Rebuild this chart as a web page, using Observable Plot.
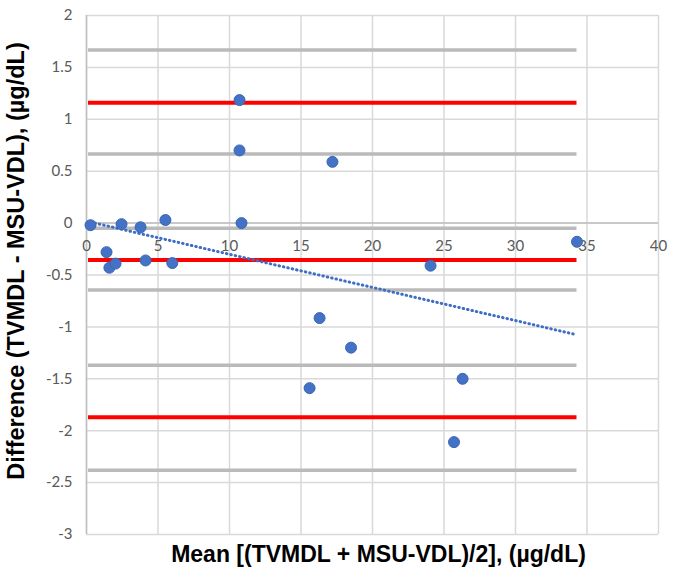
<!DOCTYPE html>
<html>
<head>
<meta charset="utf-8">
<script src="https://cdn.jsdelivr.net/npm/d3@7"></script>
<script src="https://cdn.jsdelivr.net/npm/@observablehq/plot@0.6"></script>
<style>
  html, body { margin: 0; padding: 0; background: white; }
</style>
</head>
<body>
<div id="chart"></div>
<script>
// ---- data ----
const xTicks = [0, 5, 10, 15, 20, 25, 30, 35, 40];
const yTicks = [-3, -2.5, -2, -1.5, -1, -0.5, 0, 0.5, 1, 1.5, 2];

const meanX = [0.28, 2.45, 3.78, 5.52, 10.84, 1.4, 1.6, 2.03, 4.13, 6.0,
               10.7, 10.7, 17.2, 34.3, 24.06, 16.3, 18.5, 15.6, 26.3, 25.7];
const diffY = [-0.02, -0.01, -0.04, 0.03, 0.0, -0.28, -0.43, -0.39, -0.36, -0.385,
               1.185, 0.70, 0.59, -0.18, -0.41, -0.915, -1.2, -1.59, -1.50, -2.11];

// bias and limits of agreement (red), their confidence bounds (gray)
const limitLines = [1.16, -0.355, -1.87];
const ciLines = [1.667, 0.665, -0.05, -0.645, -1.37, -2.38];
const lineExtent = [0.14, 34.3];

// trend line endpoints
const trendX = [0.28, 34.1];
const trendY = [0.01, -1.07];

const xLabel = "Mean [(TVMDL + MSU-VDL)/2], (\u00b5g/dL)";
const yLabel = "Difference (TVMDL - MSU-VDL), (\u00b5g/dL)";

// ---- build ----
const points = meanX.map((x, i) => ({x, y: diffY[i]}));
const trend = trendX.map((x, i) => ({x, y: trendY[i]}));

const chart = Plot.plot({
  width: 676,
  height: 579,
  marginLeft: 86,
  marginRight: 18,
  marginTop: 15,
  marginBottom: 45,
  style: {fontFamily: "Lato, 'Open Sans', sans-serif", fontSize: "15px", background: "white", color: "#595959"},
  x: {domain: [0, 40], axis: null},
  y: {domain: [-3, 2], ticks: yTicks, tickSize: 0, tickPadding: 14, tickFormat: d => String(d), label: null},
  marks: [
    Plot.ruleY(yTicks, {stroke: "#d9d9d9", strokeWidth: 1.5}),
    Plot.ruleX(xTicks, {stroke: "#d9d9d9", strokeWidth: 1.5}),
    Plot.ruleX([0], {stroke: "#bfbfbf", strokeWidth: 1.5}),
    Plot.ruleY([0], {stroke: "#bfbfbf", strokeWidth: 1.5}),
    Plot.ruleY(ciLines, {x1: () => lineExtent[0], x2: () => lineExtent[1], stroke: "#bababa", strokeWidth: 3.5}),
    Plot.ruleY(limitLines, {x1: () => lineExtent[0], x2: () => lineExtent[1], stroke: "#ff0000", strokeWidth: 4}),
    Plot.text(xTicks, {x: d => d, y: () => 0, text: d => String(d), dy: 23, fill: "#595959", fontSize: 15}),
    Plot.line(trend, {x: "x", y: "y", stroke: "#3f6fc4", strokeWidth: 3, strokeDasharray: "0.5 4", strokeLinecap: "round"}),
    Plot.dot(points, {x: "x", y: "y", r: 5.5, fill: "#4472c4", stroke: "#3b66b5", strokeWidth: 1}),
    Plot.text([yLabel], {text: d => d, frameAnchor: "left", textAnchor: "middle", dx: -70, dy: -14, rotate: -90, fontSize: 23.5, fontWeight: "bold", fill: "#000", fontFamily: "'Liberation Sans', Arial, sans-serif"}),
    Plot.text([xLabel], {text: d => d, frameAnchor: "bottom", textAnchor: "middle", dy: 27, dx: 6, fontSize: 23, fontWeight: "bold", fill: "#000", fontFamily: "'Liberation Sans', Arial, sans-serif"})
  ]
});
document.getElementById("chart").appendChild(chart);
</script>
</body>
</html>
